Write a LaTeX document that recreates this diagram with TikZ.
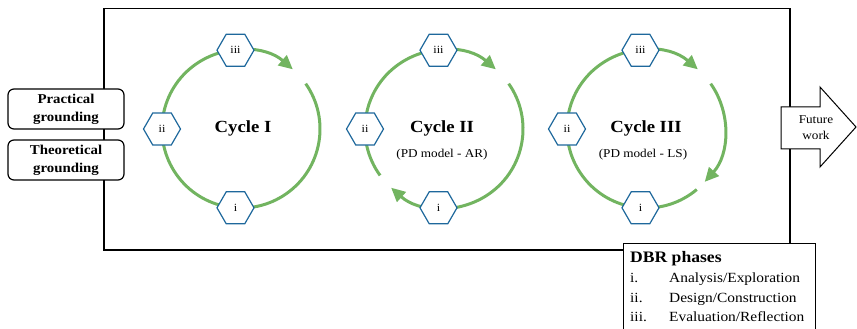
\documentclass[tikz,border=0pt]{standalone}
\usepackage{fontspec}
\setmainfont[FakeStretch=1.1]{Liberation Serif}
\usetikzlibrary{arrows.meta,shapes.geometric,calc}
\definecolor{cyc}{RGB}{114,180,96}
\definecolor{hexblue}{RGB}{30,104,156}
\begin{document}
\begin{tikzpicture}[x=1pt,y=1pt,
  hexnode/.style={regular polygon, regular polygon sides=6, minimum size=37pt, inner sep=0pt,
    draw=hexblue, line width=1.2pt, fill=white, font=\fontsize{11}{13}\selectfont},
  cycarc/.style={draw=cyc, line width=3pt},
  cyctip/.style={-{Triangle[length=14pt,width=13pt]}},
  ground/.style={draw, line width=1.2pt, rounded corners=6pt, fill=white, minimum width=116pt,
    minimum height=40pt, align=center, inner sep=0pt, font=\bfseries\fontsize{13.5}{18}\selectfont},
  cyctitle/.style={font=\bfseries\fontsize{17}{20}\selectfont, inner sep=0pt},
  cycsub/.style={font=\fontsize{12}{14}\selectfont, inner sep=0pt},
  legtxt/.style={anchor=base west, inner sep=0pt, font=\fontsize{14}{17}\selectfont},
  plainbox/.style={draw, line width=1.2pt, fill=white, inner sep=0pt}
]
\useasboundingbox (0,0) rectangle (857,329);
% outer frame
\node[plainbox, fill=none, minimum width=686pt, minimum height=241.5pt] (frame) at (447,199.75) {};

% cycle centres
\coordinate (c1) at (241,200);
\coordinate (c2) at (444,200);
\coordinate (c3) at (646,200);

% Cycle I arc
\draw[cycarc, cyctip] ($(c1)+(35:79)$) arc[start angle=35, end angle=-311, radius=79];
% Cycle II arcs
\draw[cycarc, cyctip] ($(c2)+(35:79)$) arc[start angle=35, end angle=-132, radius=79];
\draw[cycarc, cyctip] ($(c2)+(216:79)$) arc[start angle=216, end angle=49, radius=79];
% Cycle III arcs
\draw[cycarc, cyctip] ($(c3)+(35:79)$) arc[start angle=35, end angle=-42, radius=79];
\draw[cycarc, cyctip] ($(c3)+(310:79)$) arc[start angle=310, end angle=49, radius=79];

% hexagons
\foreach \c in {1,2,3}{
  \node[hexnode] (hi\c) at ($(c\c)+(266:79)$) {i};
  \node[hexnode] (hii\c) at ($(c\c)+(180:79)$) {ii};
  \node[hexnode] (hiii\c) at ($(c\c)+(94:79)$) {iii};
}

% cycle titles
\node[cyctitle] (t1) at (243,201) {Cycle I};
\node[cyctitle] (t2) at (442,201) {Cycle II};
\node[cycsub] (s2) at (442,174) {(PD model - AR)};
\node[cyctitle] (t3) at (646,201) {Cycle III};
\node[cycsub] (s3) at (643,174) {(PD model - LS)};

% grounding boxes
\node[ground] (pg) at (66,220) {Practical\\grounding};
\node[ground] (tg) at (66,169) {Theoretical\\grounding};

% future work arrow
\draw[line width=1pt, fill=white] (781,222) -- (820,222) -- (820,242) -- (856,202)
  -- (820,162) -- (820,180) -- (781,180) -- cycle;
\node[align=center, inner sep=0pt, font=\fontsize{12}{16}\selectfont] (fw) at (816,201) {Future\\work};

% DBR legend
\node[plainbox, minimum width=192pt, minimum height=110pt, anchor=north west] (dbr) at (623,86) {};
\node[anchor=base west, inner sep=0pt, font=\bfseries\fontsize{16}{19}\selectfont] (dbrt) at (630,66) {DBR phases};
\node[legtxt] (l1) at (630,46) {i.};
\node[legtxt] (p1) at (669,46) {Analysis/Exploration};
\node[legtxt] (l2) at (630,26.5) {ii.};
\node[legtxt] (p2) at (669,26.5) {Design/Construction};
\node[legtxt] (l3) at (630,7) {iii.};
\node[legtxt] (p3) at (669,7) {Evaluation/Reflection};
\end{tikzpicture}
\end{document}
